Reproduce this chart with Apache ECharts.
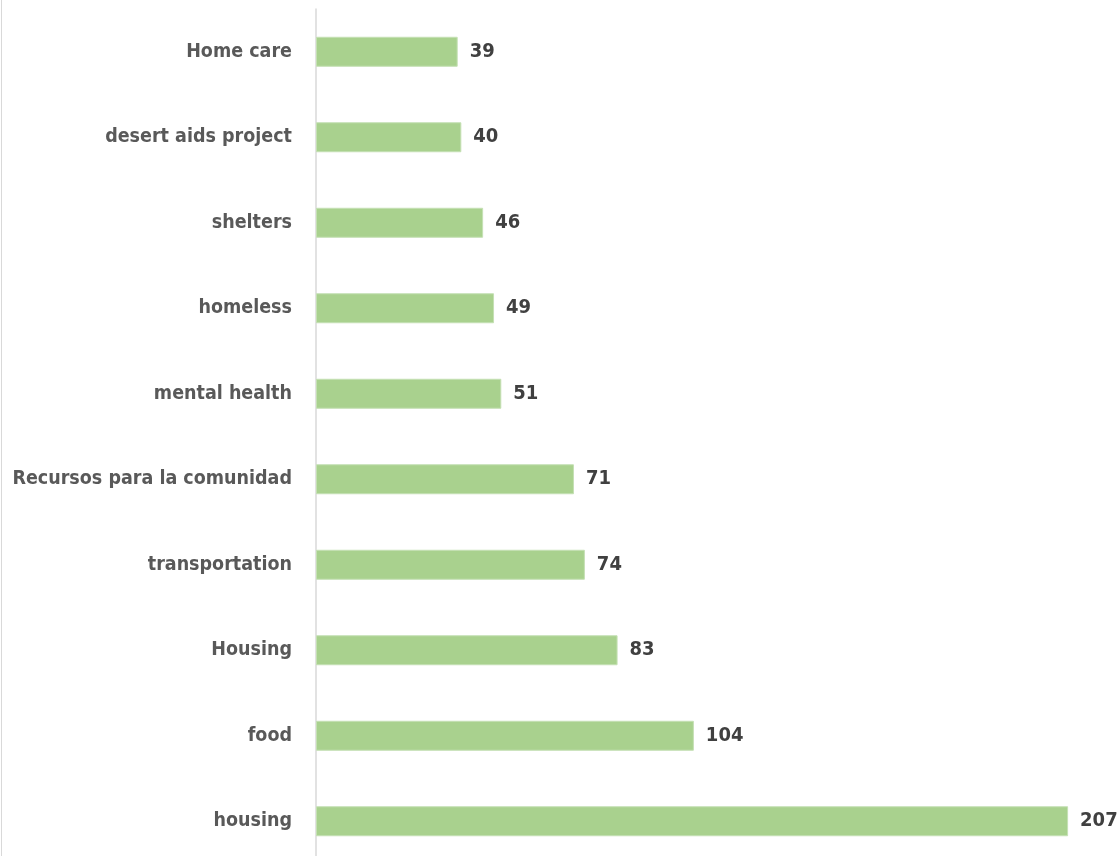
<!DOCTYPE html>
<html>
<head>
<meta charset="utf-8">
<script src="https://cdn.jsdelivr.net/npm/echarts@6/dist/echarts.min.js"></script>
<style>
html,body{margin:0;padding:0;background:#fff;}
#c{width:1119px;height:856px;}
#edge{position:absolute;left:1px;top:0;width:1px;height:856px;background:#d9d9d9;}
</style>
</head>
<body>
<div id="c"></div>
<div id="edge"></div>
<script>
const categories = ["housing","food","Housing","transportation","Recursos para la comunidad","mental health","homeless","shelters","desert aids project","Home care"];
const values = [207,104,83,74,71,51,49,46,40,39];

const chart = echarts.init(document.getElementById('c'));
const FONT = '"DejaVu Sans Condensed","Liberation Sans Narrow","Open Sans",sans-serif';
chart.setOption({
  animation:false,
  grid:{left:316,right:40,top:9,bottom:-8,containLabel:false,outerBoundsMode:'none'},
  xAxis:{type:'value',min:0,max:210,show:false,splitLine:{show:false}},
  yAxis:{type:'category',data:categories,
    axisLine:{show:true,lineStyle:{color:'#d9d9d9',width:1.5}},
    axisTick:{show:false},
    axisLabel:{color:'#595959',fontFamily:FONT,fontWeight:'bold',fontSize:19.5,margin:24}
  },
  series:[{type:'bar',data:values,barWidth:30,
    itemStyle:{color:'#a9d18e',borderColor:'#c5e0b4',borderWidth:1},
    label:{show:true,position:'right',distance:12,color:'#404040',fontFamily:FONT,fontWeight:'bold',fontSize:20}
  }]
});
</script>
</body>
</html>
